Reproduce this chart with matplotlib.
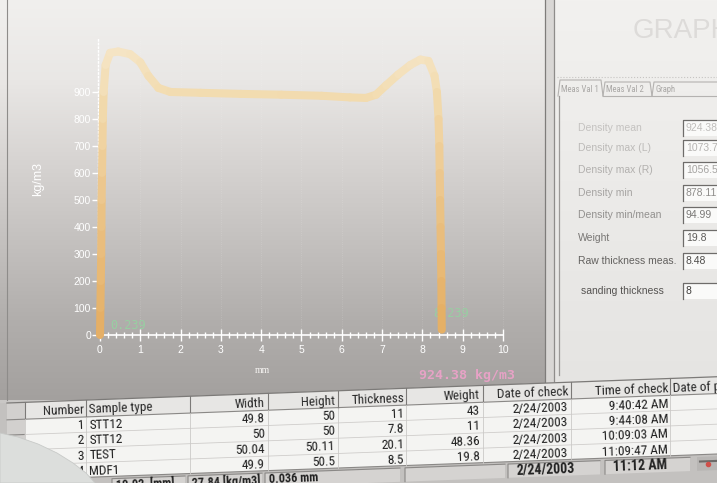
import os
import numpy as np
import matplotlib
matplotlib.use("Agg")
import matplotlib.pyplot as plt
import matplotlib.font_manager as fm
from matplotlib.collections import LineCollection
from matplotlib.colors import LinearSegmentedColormap
from matplotlib.patches import Polygon, Rectangle

plt.rcParams['font.family'] = ['Liberation Sans', 'DejaVu Sans']

# ---------------- data ----------------
thickness_mm = [0.00, 0.01, 0.02, 0.03, 0.035, 0.04, 0.05, 0.06, 0.07, 0.09, 0.14, 0.25,
                0.45, 0.75, 1.00, 1.20, 1.45, 1.75, 2.50, 3.50, 4.50, 5.50, 6.20, 6.60,
                6.85, 7.10, 7.40, 7.70, 7.95, 8.15, 8.30, 8.36, 8.40, 8.42, 8.43, 8.44,
                8.45, 8.46, 8.47, 8.475, 8.48]
density = [0, 100, 200, 300, 400, 500, 600, 700, 800, 900, 1000, 1045,
           1050, 1040, 1010, 960, 915, 900, 897, 893, 890, 886, 880, 878,
           890, 925, 965, 1000, 1020, 1015, 960, 900, 800, 700, 600, 500,
           400, 300, 200, 100, 20]
x_ticks = list(range(0, 11))
y_ticks = list(range(0, 1000, 100))
mean_label = "924.38 kg/m3"
left_marker = "0.239"
right_marker = "8.239"
x_label = "mm"
y_label = "kg/m3"

tab_names = ["Meas Val 1", "Meas Val 2", "Graph"]
panel_labels = ["Density mean", "Density max (L)", "Density max (R)", "Density min",
                "Density min/mean", "Weight", "Raw thickness meas.", "sanding thickness"]
panel_values = ["924.38", "1073.7", "1056.5", "878.11", "94.99", "19.8", "8.48", "8"]

table_headers = ["Number", "Sample type", "Width", "Height", "Thickness", "Weight",
                 "Date of check", "Time of check", "Date of p"]
sample_numbers = ["1", "2", "3", "4"]
sample_types = ["STT12", "STT12", "TEST", "MDF1"]
widths = ["49.8", "50", "50.04", "49.9"]
heights = ["50", "50", "50.11", "50.5"]
thicknesses = ["11", "7.8", "20.1", "8.5"]
weights = ["43", "11", "48.36", "19.8"]
check_dates = ["2/24/2003", "2/24/2003", "2/24/2003", "2/24/2003"]
check_times = ["9:40:42 AM", "9:44:08 AM", "10:09:03 AM", "11:09:47 AM"]
status_texts = ["10.02  [mm]", "27.84 [kg/m3]", "0.036 mm", "", "2/24/2003", "11:12 AM"]


# ---------------- narrow font lookup ----------------
def find_narrow(bold):
    best, best_score = None, 99
    for f in fm.fontManager.ttflist:
        n = os.path.basename(f.fname).lower()
        if not ('narrow' in n or 'condensed' in n):
            continue
        if 'italic' in n or 'oblique' in n:
            continue
        if ('bold' in n) != bold:
            continue
        if 'liberation' in n:
            s = 0
        elif any(k in n for k in ['extra', 'ultra', 'semi', 'light', 'thin', 'medium', 'black']):
            s = 5
        elif 'roboto' in n or 'open' in n:
            s = 1
        elif 'dejavu' in n:
            s = 2
        else:
            s = 3
        if s < best_score:
            best, best_score = f.fname, s
    return best


NARROW = find_narrow(False)
NARROW_B = find_narrow(True)


def tfont(size, bold=False):
    path = NARROW_B if bold else NARROW
    if path:
        return fm.FontProperties(fname=path, size=size)
    return fm.FontProperties(family='Liberation Sans', size=size * 0.84,
                             weight='bold' if bold else 'normal')


# ---------------- figure ----------------
W, H = 717, 483
fig = plt.figure(figsize=(W / 100, H / 100), dpi=100)
fig.patch.set_facecolor('#c9c7c5')


def fig_rect(x0, y0, x1, y1):
    return [x0 / W, 1 - y1 / H, (x1 - x0) / W, (y1 - y0) / H]


ax = fig.add_axes(fig_rect(0, 0, 545, 400))
PXMM, X0PX, PXU, Y0PX = 40.3, 100, 0.27, 335
xlim = (-X0PX / PXMM, (545 - X0PX) / PXMM)
ylim = ((Y0PX - 400) / PXU, Y0PX / PXU)

stops = [0, 80, 160, 240, 320, 400]
cols = [(241, 240, 238), (233, 231, 229), (215, 212, 210), (196, 193, 191), (177, 174, 172), (163, 160, 158)]
rows = np.arange(400)
grad = np.zeros((400, 2, 3))
for c in range(3):
    grad[:, :, c] = np.interp(rows, stops, [cc[c] for cc in cols])[:, None] / 255
ax.imshow(grad, extent=(xlim[0], xlim[1], ylim[0], ylim[1]), aspect='auto',
          zorder=0, interpolation='bilinear')

ax.vlines(x_ticks[1:], 0, 1100, colors='white', alpha=0.18, lw=0.6, linestyles=':', zorder=1)

pts = np.column_stack([thickness_mm, density])
segs = np.stack([pts[:-1], pts[1:]], axis=1)
mid = (np.array(density[:-1]) + np.array(density[1:])) / 2
cmap = LinearSegmentedColormap.from_list(
    'prof', [(0, '#e4ad62'), (0.45, '#ebc488'), (0.8, '#f2dbae'), (1, '#f6e7cb')])
lc = LineCollection(segs, colors=cmap(np.clip(mid / 1100, 0, 1)), linewidths=5.8,
                    capstyle='round', joinstyle='round', zorder=4)
ax.add_collection(lc)

ax.text(0.25, 37, left_marker, color='#98cfa2', fontsize=8.5, family='DejaVu Sans Mono',
        va='center', zorder=3)
ax.text(8.26, 80, right_marker, color='#98cfa2', fontsize=8.5, family='DejaVu Sans Mono',
        va='center', zorder=3)
ax.text(515 / 545, (400 - 375) / 400, mean_label, transform=ax.transAxes, ha='right',
        va='center', color='#e7a2c6', fontsize=9.5, family='DejaVu Sans Mono',
        fontweight='bold', zorder=3)

ax.set_xlim(*xlim)
ax.set_ylim(*ylim)
for s in ['top', 'right']:
    ax.spines[s].set_visible(False)
ax.spines['bottom'].set_position(('data', 0))
ax.spines['bottom'].set_bounds(0, 10)
ax.spines['bottom'].set_color('white')
ax.spines['bottom'].set_linewidth(1.2)
ax.spines['left'].set_position(('data', -0.05))
ax.spines['left'].set_bounds(0, 1100)
ax.spines['left'].set_color('white')
ax.spines['left'].set_linestyle(':')
ax.spines['left'].set_linewidth(1.0)

ax.set_xticks(x_ticks)
ax.set_xticks(np.arange(0, 10.01, 0.2), minor=True)
ax.set_yticks(y_ticks)
ax.tick_params(axis='x', which='major', direction='inout', length=9, width=1,
               colors='white', labelsize=7.5, pad=3)
ax.tick_params(axis='x', which='minor', direction='inout', length=5, width=1, colors='white')
ax.tick_params(axis='y', which='major', direction='out', length=4, width=1,
               colors='white', labelsize=7.5, pad=1)
ax.set_xlabel(x_label, color='#f6f4f2', fontsize=7, family='Liberation Serif')
ax.xaxis.set_label_coords(262 / 545, (400 - 366) / 400)
ax.set_ylabel(y_label, color='white', fontsize=9)
ax.yaxis.set_label_coords(44 / 545, (400 - 179) / 400)

# ---------------- overlay in pixel coordinates ----------------
ov = fig.add_axes([0, 0, 1, 1], zorder=10)
ov.set_xlim(0, W)
ov.set_ylim(H, 0)
ov.axis('off')
ov.patch.set_alpha(0)

ov.plot([7, 7], [0, 400], color='#8e8c8a', lw=0.8, zorder=2)
ov.add_patch(Rectangle((545, 0), 9, 392, fc='#d9d7d5', ec='none', zorder=1))
pg = np.zeros((390, 2, 3))
for c in range(3):
    pg[:, :, c] = np.interp(np.arange(390), [0, 390],
                            [[242, 241, 239][c], [229, 228, 226][c]])[:, None] / 255
ov.imshow(pg, extent=(554, W, 390, 0), aspect='auto', zorder=1)
ov.plot([545, 545], [0, 392], color='#7e7c7a', lw=0.9, zorder=2)
ov.plot([554, 554], [0, 392], color='#8e8c8a', lw=0.9, zorder=2)

ov.text(633, 31, "GRAPH", fontsize=20, color='#dddbd9', va='center', ha='left', zorder=3)
ov.plot([557, W], [77, 77], color='#c6c4c2', lw=0.8, ls=':', zorder=3)

tab_x = [558, 603, 652, 720]
for i, name in enumerate(tab_names):
    x0, x1 = tab_x[i], tab_x[i + 1]
    top = 80 if i == 0 else 82
    ov.plot([x0, x0 + 2, x1 - 2, x1], [96, top, top, 96], color='#b4b2b0', lw=0.8, zorder=3)
    ov.text(x0 + 3, 89, name, fontproperties=tfont(6.2), color='#a9a7a5', va='center',
            ha='left', zorder=3)
ov.plot([559, 559], [96, 375], color='#9c9a98', lw=0.9, zorder=3)
ov.plot([603, W], [96, 96], color='#b4b2b0', lw=0.8, zorder=3)

row_y = [128, 148, 170, 193, 215, 238, 261, 291]
lab_cols = ['#c4c2c0', '#bcbab8', '#b2b0ae', '#a6a4a2', '#92908e', '#787674', '#63615f', '#555351']
val_cols = ['#c0bebc', '#b6b4b2', '#a6a4a2', '#8e8c8a', '#7a7876', '#5e5c5a', '#4e4c4a', '#3e3c3a']
for i, (lab, val) in enumerate(zip(panel_labels, panel_values)):
    y = row_y[i]
    ov.text(578 if i < 7 else 581, y, lab, fontsize=7.5, color=lab_cols[i], va='center',
            ha='left', zorder=3)
    ov.add_patch(Rectangle((683, y - 8), 40, 16, fc='#fafaf9', ec='none', zorder=3))
    ov.plot([683, 683, W], [y + 8, y - 8, y - 8], color='#6e6c6a', lw=0.9, zorder=3)
    ov.text(686, y, val, fontsize=7.5, color=val_cols[i], va='center', ha='left', zorder=4)

# ---------------- table (tilted like the photo) ----------------
SLOPE = 0.037
ANG = np.degrees(np.arctan(SLOPE))
RH = 15.3


def ty(x, r):
    return 410 + r * RH - SLOPE * (x - 87)


def band(x0, x1, r0, r1, **kw):
    p = [(x0, ty(x0, r0)), (x1, ty(x1, r0)), (x1, ty(x1, r1)), (x0, ty(x0, r1))]
    ov.add_patch(Polygon(p, closed=True, **kw))


band(0, W, -0.65, 10, fc='#c3c1bf', ec='none', zorder=5)
band(7, W, -0.65, 4.4, fc='#f4f4f2', ec='none', zorder=5)
band(25, W, -0.65, 0.45, fc='#e7e6e4', ec='none', zorder=5)
band(7, 25, -0.65, 4.4, fc='#d2d0ce', ec='none', zorder=5)


def hline(r, x0, x1, **kw):
    ov.plot([x0, x1], [ty(x0, r), ty(x1, r)], zorder=6, **kw)


hline(-0.65, 7, W, color='#7c7a78', lw=0.9)
hline(0.45, 7, W, color='#8a8886', lw=0.8)
for r in [1.45, 2.45, 3.45]:
    hline(r, 7, 25, color='#8a8886', lw=0.8)
    hline(r, 25, W, color='#cfcdcb', lw=0.6)
hline(4.4, 7, W, color='#8a8886', lw=0.8)

borders = [25, 86, 190, 268, 338, 406, 483, 571, 670]
for bx in borders:
    ov.plot([bx, bx], [ty(bx, -0.65), ty(bx, 0.45)], color='#7c7a78', lw=0.8, zorder=6)
    ov.plot([bx, bx], [ty(bx, 0.45), ty(bx, 4.4)], color='#cbc9c7', lw=0.6, zorder=6)


def ttext(x, r, s, ha, size=9.5, bold=False, color='#1e1e1e'):
    ov.text(x, ty(x, r), s, ha=ha, va='center', rotation=ANG, rotation_mode='anchor',
            fontproperties=tfont(size, bold), color=color, zorder=7)


head_pos = [(84, 'right'), (89, 'left'), (265, 'right'), (335, 'right'), (404, 'right'),
            (480, 'right'), (568, 'right'), (668, 'right'), (673, 'left')]
for (hx, ha), h in zip(head_pos, table_headers):
    ttext(hx, 0, h, ha, color='#2a2a2a')

columns = [sample_numbers, sample_types, widths, heights, thicknesses, weights,
           check_dates, check_times]
for ci, col in enumerate(columns):
    hx, ha = head_pos[ci]
    for ri, v in enumerate(col):
        ttext(hx, ri + 1, v, ha)

box_x = [(112, 185), (188, 262), (265, 400), (405, 505), (508, 600), (605, 690)]
for (x0, x1), s in zip(box_x, status_texts):
    band(x0, x1, 4.55, 5.45, fc='#d5d3d1', ec='none', zorder=6)
    ov.plot([x0, x0, x1], [ty(x0, 5.45), ty(x0, 4.55), ty(x1, 4.55)], color='#8a8886',
            lw=0.8, zorder=6)
    if s:
        big = x0 >= 500
        ttext(x0 + (8 if big else 4), 5.0, s, 'left', size=10 if big else 8.8,
              bold=True, color='#222222')
band(697, 730, 4.55, 5.45, fc='#b8b6b4', ec='none', zorder=6)
ov.plot([700, 716], [ty(700, 4.85), ty(716, 4.85)], color='#6c6a68', lw=1.5, zorder=7)
ov.plot([708], [ty(708, 5.0)], 'o', color='#d0504a', ms=3, zorder=7)

curl = [(0, 433), (18, 437), (38, 444), (57, 453), (73, 463), (86, 473), (95, 483), (0, 483)]
ov.add_patch(Polygon(curl, closed=True, fc='#dcdedc', ec='#c8cac8', lw=0.6, zorder=9))

fig.savefig('out.png', dpi=100)
